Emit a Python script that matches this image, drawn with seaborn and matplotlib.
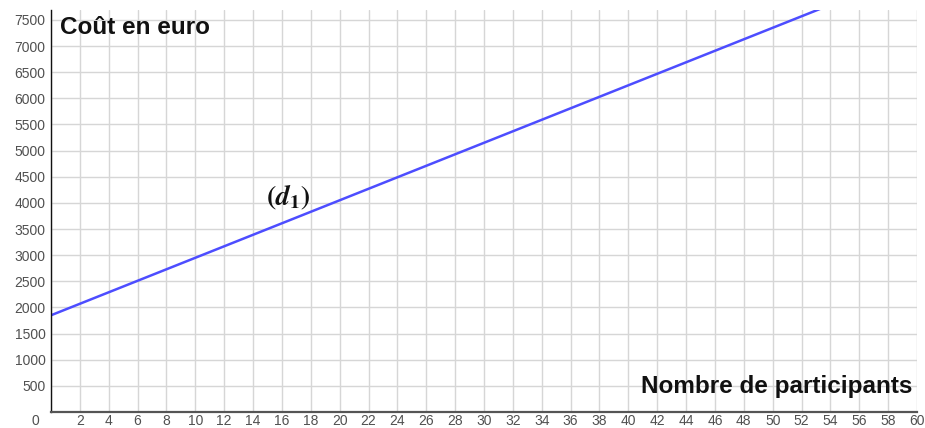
import matplotlib
matplotlib.use("Agg")
import matplotlib.pyplot as plt
import matplotlib.transforms as mtransforms
import pandas as pd
import seaborn as sns

# values
participants = [0, 60]
cost = [1850, 8450]
x_ticks = list(range(0, 61, 2))
y_ticks = list(range(500, 7501, 500))

sns.set_theme(style="white")
plt.rcParams["font.family"] = ["Liberation Sans", "DejaVu Sans"]
plt.rcParams["mathtext.fontset"] = "stix"

df = pd.DataFrame({"participants": participants, "cost": cost})

fig = plt.figure(figsize=(9.25, 4.28), dpi=100)
ax = fig.add_axes([0.0551, 0.0374, 0.9363, 0.9392])

sns.lineplot(data=df, x="participants", y="cost", color="#4d4dff", linewidth=1.8, ax=ax)

ax.set_xlim(0, 60)
ax.set_ylim(0, 7690)
ax.set_xticks(x_ticks)
ax.set_yticks(y_ticks)
ax.tick_params(axis="both", labelsize=10, labelcolor="#505050", length=0)
ax.tick_params(axis="x", pad=1.5)
ax.tick_params(axis="y", pad=4)
ax.grid(True, color="#d6d6d6", linewidth=1)
for s in ["top", "right"]:
    ax.spines[s].set_visible(False)
ax.spines["left"].set_color("#111111")
ax.spines["left"].set_linewidth(1)
ax.spines["bottom"].set_color("#555555")
ax.spines["bottom"].set_linewidth(1.6)
ax.set_xlabel("")
ax.set_ylabel("")

# origin label sits left of the axis, as in the picture
zero = ax.get_xticklabels()[0]
zero.set_transform(zero.get_transform() + mtransforms.ScaledTranslation(-11 / 72, 0, fig.dpi_scale_trans))

ax.text(0.6, 7350, "Coût en euro", fontsize=17.5, fontweight="bold", color="#111111",
        va="center", ha="left")
ax.text(59.7, 480, "Nombre de participants", fontsize=17.5, fontweight="bold",
        color="#111111", va="center", ha="right")
ax.text(16.4, 4110, r"$\mathbf{(}\mathbfit{d}_{\mathbf{1}}\mathbf{)}$", fontsize=20,
        color="#111111", ha="center", va="center")

fig.savefig("out.png", dpi=100)
